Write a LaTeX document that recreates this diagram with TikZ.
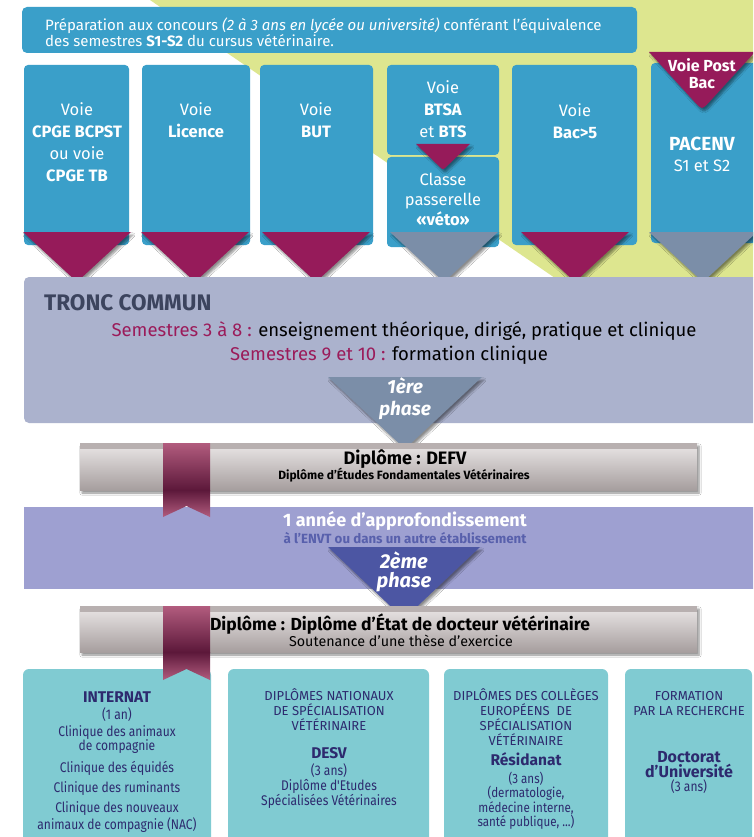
\documentclass[tikz,border=0pt]{standalone}
\usepackage{fontspec}
\setmainfont{Fira Sans}
\newfontfamily\condsans{Fira Sans}[FakeStretch=0.86]
\usetikzlibrary{shadows.blur}
\definecolor{bggreen}{RGB}{221,230,143}
\definecolor{voieblue}{RGB}{58,159,201}
\definecolor{voiemag}{RGB}{150,27,90}
\definecolor{voiegray}{RGB}{123,142,168}
\definecolor{troncbg}{RGB}{171,178,205}
\definecolor{troncfg}{RGB}{60,68,94}
\definecolor{semcol}{RGB}{155,27,90}
\definecolor{approbg}{RGB}{158,160,209}
\definecolor{approfg}{RGB}{88,96,172}
\definecolor{phasebl}{RGB}{76,86,163}
\definecolor{specbg}{RGB}{128,203,210}
\definecolor{specfg}{RGB}{45,42,110}
\definecolor{barlight}{RGB}{226,222,222}
\definecolor{bardark}{RGB}{166,158,158}
\definecolor{barstripe}{RGB}{184,176,176}
\definecolor{ribpink}{RGB}{178,92,126}
\definecolor{ribdark}{RGB}{92,24,58}
\tikzset{shad/.style={blur shadow={shadow xshift=2pt,shadow yshift=-3pt,shadow blur steps=6,shadow opacity=45}}}
\tikzset{voietxt/.style={text=white,align=center,inner sep=0pt,font=\fontsize{16.5}{22}\selectfont}}
\tikzset{phasetxt/.style={text=white,align=center,inner sep=0pt,font=\fontsize{19}{22}\selectfont\bfseries\itshape}}
\tikzset{spectxt/.style={text=specfg,align=center,inner sep=0pt,font=\condsans\fontsize{14}{16}\selectfont}}
\tikzset{speccaps/.style={text=specfg,align=center,inner sep=0pt,font=\fontsize{13}{15}\selectfont}}
\tikzset{specbold/.style={text=specfg,align=center,inner sep=0pt,font=\fontsize{15.5}{16}\selectfont\bfseries}}
%% triangle pointing down: centre x, top y, half width, height, colour
\newcommand{\voietri}[5]{%
\fill[#5,shad] ({#1-#3},#2) -- ({#1-0.14*#3},{#2+0.86*#4}) .. controls (#1,{#2+#4}) .. ({#1+0.14*#3},{#2+0.86*#4}) -- ({#1+#3},#2) -- cycle;}
%% diploma bar with its ribbon
\newcommand{\diplbar}[2]{%
\fill[bardark,shad] (80,#1) rectangle (697,#2);
\shade[top color=barlight,bottom color=bardark] (80,{#1+6}) rectangle (697,#2);
\fill[barstripe] (80,#1) rectangle (697,{#1+6});}
\newcommand{\ribbon}[3]{%
\shade[top color=ribpink,bottom color=ribdark] (163,#1) rectangle (210,#2);
\shade[top color=ribdark,bottom color=ribpink] (163,#2) -- (210,#2) -- (210,#3) -- (186.5,{#3-11}) -- (163,#3) -- cycle;}

\begin{document}
\begin{tikzpicture}[x=1pt,y=-1pt]
\clip (0,0) rectangle (753,837);
\fill[white] (0,0) rectangle (753,837);
\fill[bggreen] (150,0) -- (760,0) -- (760,278) -- (555,278) -- cycle;

%% top banner
\fill[voieblue,rounded corners=5pt] (22,7) rectangle (637,53);
\node[anchor=west,text=white,align=left,inner sep=0pt,font=\fontsize{15}{16}\selectfont] (prepa) at (45,32)
  {Préparation aux concours \textit{(2 à 3 ans en lycée ou université)} conférant l'équivalence\\des semestres \textbf{S1-S2} du cursus vétérinaire.};

%% the six ways in
\foreach \xa/\xb in {24/129,142/250,260/373,512/637}
  \fill[voieblue,rounded corners=4pt] (\xa,65) rectangle (\xb,245);
\fill[voieblue,rounded corners=4pt] (387,65) rectangle (499,155);
\fill[voieblue,rounded corners=4pt] (387,157) rectangle (499,247);
\fill[voieblue,rounded corners=4pt] (651,63) rectangle (770,243);
\foreach \cx/\col in {77/voiemag,195/voiemag,316/voiemag,444/voiegray,575/voiemag,703/voiegray}
  {\voietri{\cx}{232}{54}{50}{\col}}
\voietri{443}{144}{27}{26}{voiemag}
\voietri{702}{52}{53}{58}{voiemag}

\node[voietxt] (cpge) at (77,142.5) {Voie\\\textbf{CPGE BCPST}\\ou voie\\\textbf{CPGE TB}};
\node[voietxt] (lic) at (196,120) {Voie\\\textbf{Licence}};
\node[voietxt] (but) at (316,120) {Voie\\\textbf{BUT}};
\node[voietxt] (btsa) at (443,109) {Voie\\\textbf{BTSA}\\et \textbf{BTS}};
\node[voietxt,font=\fontsize{16.5}{20}\selectfont] (passe) at (443,199) {Classe\\passerelle\\\textbf{«véto»}};
\node[voietxt] (bac) at (575,121.5) {Voie\\\textbf{Bac>5}};
\node[voietxt,font=\fontsize{16}{17}\selectfont\bfseries] (postbac) at (702,74) {Voie Post\\Bac};
\node[voietxt,font=\fontsize{16.5}{21}\selectfont] (pacenv) at (702,154.5) {\textbf{\fontsize{19}{21}\selectfont PACENV}\\S1 et S2};

%% tronc commun
\fill[troncbg,rounded corners=5pt] (24,277) rectangle (770,423);
\node[anchor=west,text=troncfg,inner sep=0pt,font=\fontsize{22.5}{24}\selectfont\bfseries] (tronc) at (44,303) {TRONC COMMUN};
\node[inner sep=0pt,font=\fontsize{18.5}{20}\selectfont] (sem1) at (404,331) {\textcolor{semcol}{Semestres 3 à 8 :} enseignement théorique, dirigé, pratique et clinique};
\node[inner sep=0pt,font=\fontsize{18.5}{20}\selectfont] (sem2) at (389,355) {\textcolor{semcol}{Semestres 9 et 10 :} formation clinique};
\voietri{405}{377}{77}{72}{voiegray}
\node[phasetxt] (ph1) at (405,398.5) {1ère\\phase};

%% DEFV
\diplbar{443}{490}
\node[inner sep=0pt,font=\fontsize{18}{19}\selectfont\bfseries] (defv) at (405,459) {Diplôme : DEFV};
\node[inner sep=0pt,font=\fontsize{12}{13}\selectfont\bfseries] (defvsub) at (404,475) {Diplôme d'Études Fondamentales Vétérinaires};

%% approfondissement
\fill[approbg] (24,507) rectangle (770,589);
\ribbon{443}{490}{517}
\node[text=white,inner sep=0pt,font=\fontsize{18}{19}\selectfont\bfseries] (annee) at (405,521) {1 année d'approfondissement};
\node[text=approfg,inner sep=0pt,font=\fontsize{13.3}{14}\selectfont\bfseries] (envt) at (405,538) {à l'ENVT ou dans un autre établissement};
\voietri{404}{547}{76}{72}{phasebl}
\node[phasetxt,font=\fontsize{20}{19}\selectfont\bfseries\itshape] (ph2) at (404,572) {2ème\\phase};

%% docteur veterinaire
\diplbar{606}{652}
\node[inner sep=0pt,font=\fontsize{17.5}{18}\selectfont\bfseries] (dip) at (400,624) {Diplôme : Diplôme d'État de docteur vétérinaire};
\node[inner sep=0pt,font=\fontsize{14.3}{15}\selectfont] (these) at (401,641) {Soutenance d'une thèse d'exercice};

%% specialisations
\foreach \xa/\xb in {23/211,228/429,444/608,625/752}
  \fill[specbg,rounded corners=6pt] (\xa,669) rectangle (\xb,850);
\ribbon{606}{652}{680}

\node[specbold] (internat) at (117,697) {INTERNAT};
\foreach \yy/\lbl in {715/(1 an),733/Clinique des animaux,747/de compagnie,768/Clinique des équidés,789/Clinique des ruminants,809/Clinique des nouveaux,825/animaux de compagnie (NAC)}
  \node[spectxt] (int\yy) at (117,\yy) {\lbl};

\node[speccaps] (dn) at (329,710) {DIPLÔMES NATIONAUX\\DE SPÉCIALISATION\\VÉTÉRINAIRE};
\node[specbold] (desv) at (329,753) {DESV};
\foreach \yy/\lbl in {771/(3 ans),786/Diplôme d'Etudes,801/Spécialisées Vétérinaires}
  \node[spectxt] (desv\yy) at (329,\yy) {\lbl};

\node[speccaps] (ec) at (526,717.5) {DIPLÔMES DES COLLÈGES\\EUROPÉENS~~DE\\SPÉCIALISATION\\VÉTÉRINAIRE};
\node[specbold] (resid) at (526,759) {Résidanat};
\node[spectxt,font=\condsans\fontsize{13.5}{14}\selectfont] (res3) at (526,779) {(3 ans)};
\node[spectxt,font=\condsans\fontsize{13.5}{11.7}\selectfont] (resdom) at (526,808) {(dermatologie,\\médecine interne,\\santé publique, ...)};

\node[speccaps] (rech) at (689,703.5) {FORMATION\\PAR LA RECHERCHE};
\node[specbold,font=\fontsize{16}{15}\selectfont\bfseries] (doct) at (689,764.5) {Doctorat\\d'Université};
\node[spectxt] (doctans) at (689,787) {(3 ans)};
\end{tikzpicture}
\end{document}
